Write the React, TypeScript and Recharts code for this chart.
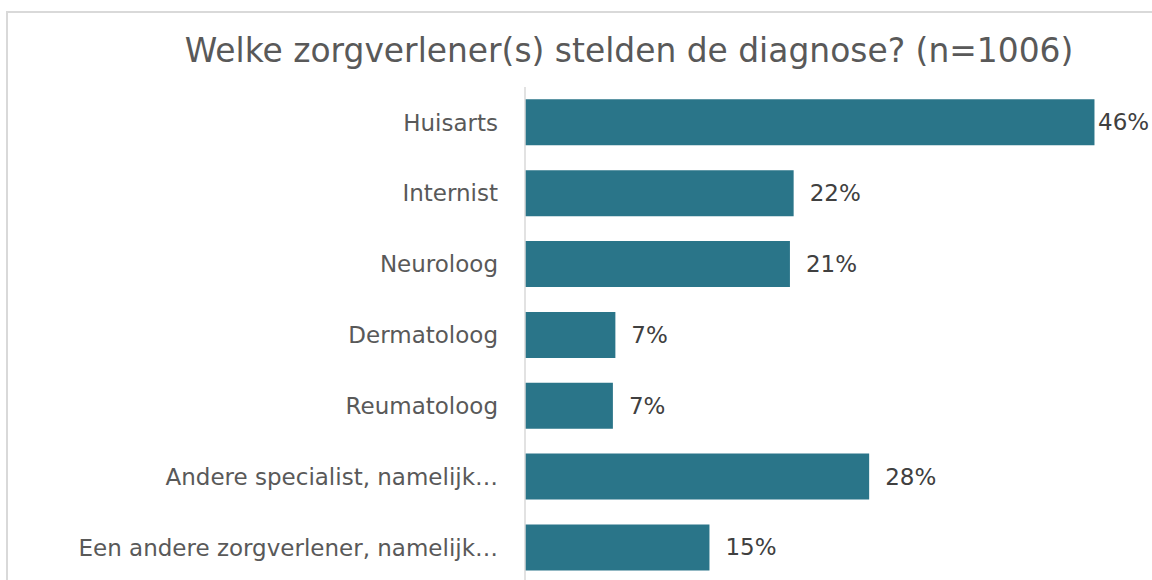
import React from 'react';
import { BarChart, Bar, XAxis, YAxis, LabelList } from 'recharts';

// Zorgverleners (categorie-as) en percentages
const categories = [
  'Huisarts',
  'Internist',
  'Neuroloog',
  'Dermatoloog',
  'Reumatoloog',
  'Andere specialist, namelijk…',
  'Een andere zorgverlener, namelijk…',
];
const percentages = [46.0, 21.7, 21.4, 7.3, 7.1, 27.8, 14.9];
const xTicks = [0, 10, 20, 30, 40, 50];

const data = categories.map((name, i) => ({ name, value: percentages[i] }));

const FONT = '"DejaVu Sans", Verdana, sans-serif';

// Value label placed outside the bar end; pushed back when near the right edge
const ValueLabel = (props: any) => {
  const { x, y, width, height, value } = props;
  const lx = Math.min(x + width + 16, 1092);
  return (
    <text
      x={lx}
      y={y + height / 2}
      dominantBaseline="central"
      fill="#404040"
      fontSize={23}
      fontFamily={FONT}
    >
      {`${Math.round(value)}%`}
    </text>
  );
};

export default function App() {
  return (
    <div
      style={{
        position: 'fixed',
        left: 6,
        top: 11,
        width: 1146,
        height: 569,
        overflow: 'hidden',
        background: '#fff',
        borderTop: '2px solid #d9d9d9',
        borderLeft: '2px solid #d9d9d9',
        boxSizing: 'border-box',
        fontFamily: FONT,
      }}
    >
      <div
        style={{
          position: 'absolute',
          left: 621,
          top: 22,
          transform: 'translateX(-50%)',
          whiteSpace: 'nowrap',
          fontSize: 32.9,
          lineHeight: 1,
          color: '#595959',
        }}
      >
        Welke zorgverlener(s) stelden de diagnose? (n=1006)
      </div>
      <div style={{ position: 'absolute', left: -2, top: -2 }}>
        <BarChart
          width={1146}
          height={572}
          data={data}
          layout="vertical"
          margin={{ top: 76, right: 8, bottom: 0, left: 0 }}
          barCategoryGap="17.4%"
        >
          <XAxis type="number" domain={[0, 50]} ticks={xTicks} hide />
          <YAxis
            type="category"
            dataKey="name"
            width={519}
            tickLine={false}
            tickSize={6}
            tickMargin={21}
            axisLine={{ stroke: '#d9d9d9', strokeWidth: 1.5 }}
            tick={{ fill: '#595959', fontSize: 23, fontFamily: FONT }}
            interval={0}
          />
          <Bar dataKey="value" fill="#2a7589" isAnimationActive={false}>
            <LabelList dataKey="value" content={<ValueLabel />} />
          </Bar>
        </BarChart>
      </div>
    </div>
  );
}
